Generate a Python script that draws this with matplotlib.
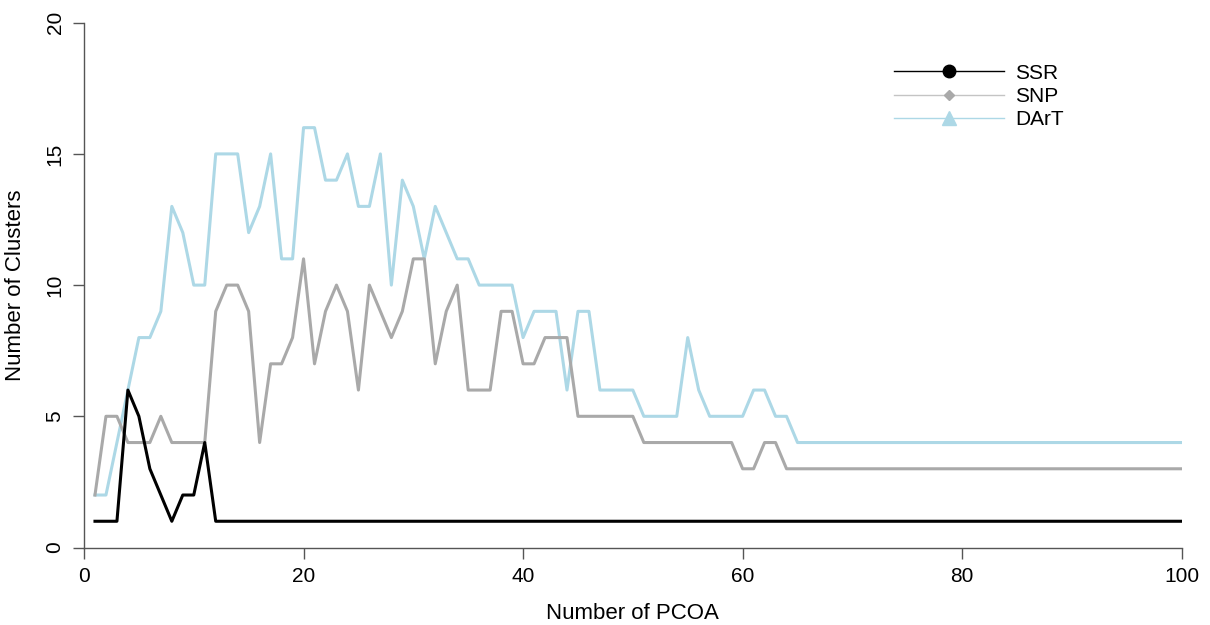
import numpy as np
import matplotlib
matplotlib.use('Agg')
import matplotlib.pyplot as plt
from matplotlib.lines import Line2D

plt.rcParams['font.family'] = ['Liberation Sans', 'DejaVu Sans']

# number of PCOA axes retained
pcoa = np.arange(1, 101)

ssr_head = [1, 1, 1, 6, 5, 3, 2, 1, 2, 2, 4]
snp_head = [2, 5, 5, 4, 4, 4, 5, 4, 4, 4, 4, 9, 10, 10, 9, 4, 7, 7, 8, 11,
            7, 9, 10, 9, 6, 10, 9, 8, 9, 11, 11, 7, 9, 10, 6, 6, 6, 9, 9, 7,
            7, 8, 8, 8, 5, 5, 5, 5, 5, 5, 4, 4, 4, 4, 4, 4, 4, 4, 4, 3,
            3, 4, 4]
dart_head = [2, 2, 4, 6, 8, 8, 9, 13, 12, 10, 10, 15, 15, 15, 12, 13, 15, 11, 11, 16,
             16, 14, 14, 15, 13, 13, 15, 10, 14, 13, 11, 13, 12, 11, 11, 10, 10, 10, 10, 8,
             9, 9, 9, 6, 9, 9, 6, 6, 6, 6, 5, 5, 5, 5, 8, 6, 5, 5, 5, 5,
             6, 6, 5, 5]

ssr = ssr_head + [1] * (100 - len(ssr_head))
snp = snp_head + [3] * (100 - len(snp_head))
dart = dart_head + [4] * (100 - len(dart_head))

c_ssr = 'black'
c_snp = '#a9a9a9'
c_dart = '#add8e6'
axis_col = '#555555'

fig = plt.figure(figsize=(12.1, 6.25), dpi=100)
ax = fig.add_axes([84/1210, 1 - 547.5/625, (1181.7-84)/1210, (547.5-22.7)/625])

ax.plot(pcoa, ssr, color=c_ssr, lw=2.2, zorder=3)
ax.plot(pcoa, snp, color=c_snp, lw=2.2, zorder=2)
ax.plot(pcoa, dart, color=c_dart, lw=2.2, zorder=1)

ax.set_xlim(0, 100)
ax.set_ylim(0, 20)
ax.set_xticks([0, 20, 40, 60, 80, 100])
ax.set_yticks([0, 5, 10, 15, 20])
ax.tick_params(direction='out', length=8, width=1, color=axis_col, labelsize=15, pad=6)
for lab in ax.get_yticklabels():
    lab.set_rotation(90)
    lab.set_va('center')
for s in ['top', 'right']:
    ax.spines[s].set_visible(False)
for s in ['left', 'bottom']:
    ax.spines[s].set_color(axis_col)
    ax.spines[s].set_linewidth(1)

ax.set_xlabel('Number of PCOA', fontsize=16, labelpad=12)
ax.set_ylabel('Number of Clusters', fontsize=16, labelpad=14)

handles = [
    Line2D([], [], color=c_ssr, lw=1, marker='o', markersize=9),
    Line2D([], [], color='#c4c4c4', lw=1, marker='D', markersize=5,
           markerfacecolor=c_snp, markeredgecolor=c_snp),
    Line2D([], [], color=c_dart, lw=1, marker='^', markersize=10),
]
fig.legend(handles, ['SSR', 'SNP', 'DArT'], loc='center left',
           bbox_to_anchor=(894/1210, 1 - 96.5/625), frameon=False,
           fontsize=15, handlelength=5.3, handletextpad=0.5,
           labelspacing=0.21, borderpad=0, borderaxespad=0, numpoints=1)

plt.savefig('out.png', dpi=100)
